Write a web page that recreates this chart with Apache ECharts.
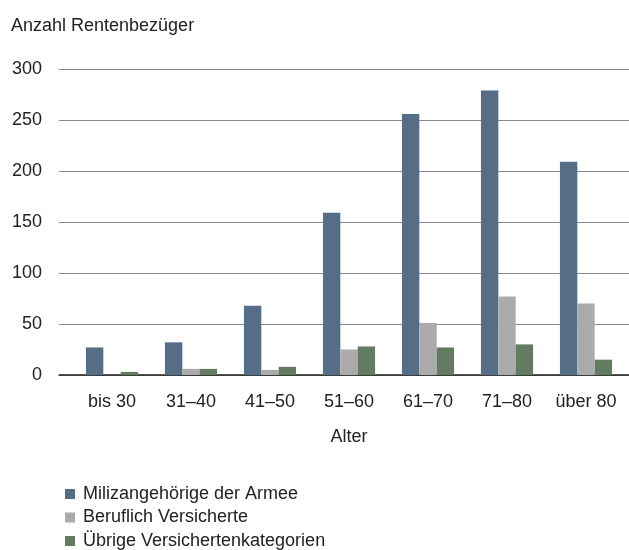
<!DOCTYPE html>
<html>
<head>
<meta charset="utf-8">
<script src="https://cdn.jsdelivr.net/npm/echarts@6/dist/echarts.min.js"></script>
<style>
  html, body { margin: 0; padding: 0; background: #fff; }
  #chart { width: 629px; height: 550px; }
</style>
</head>
<body>
<div id="chart"></div>
<script>
var ageGroups = ['bis 30', '31–40', '41–50', '51–60', '61–70', '71–80', 'über 80'];
var miliz = [27, 32, 68, 159, 256, 279, 209];
var beruflich = [0, 6, 5, 25, 51, 77, 70];
var uebrige = [3, 6, 8, 28, 27, 30, 15];
var yTicks = [0, 50, 100, 150, 200, 250, 300];
var seriesNames = ['Milizangehörige der Armee', 'Beruflich Versicherte', 'Übrige Versichertenkategorien'];

var font = '"Liberation Sans", Arial, sans-serif';
var fs = 18;

// one legend per row, rows ~23.5px apart
var legends = seriesNames.map(function (name, i) {
  return {
    orient: 'vertical',
    left: 65,
    top: 485 + i * 23.5,
    padding: 0,
    icon: 'rect',
    itemWidth: 10,
    itemHeight: 10,
    textStyle: { fontSize: fs, color: '#222', fontFamily: font, lineHeight: 16, padding: [0, 0, 0, 3] },
    data: [name]
  };
});

var chart = echarts.init(document.getElementById('chart'));

chart.setOption({
  animation: false,
  textStyle: { fontFamily: font },
  title: {
    text: 'Anzahl Rentenbezüger',
    left: 11,
    top: 17,
    padding: 0,
    textStyle: { fontSize: fs, fontWeight: 'normal', color: '#222', fontFamily: font }
  },
  legend: legends,
  grid: [
    { left: 59, right: 0, top: 69, bottom: 175 },
    { left: 72.5, right: 3.5, top: 69, bottom: 175 }
  ],
  xAxis: [
    {
      gridIndex: 0,
      type: 'category',
      data: ageGroups,
      axisLine: { show: true, lineStyle: { color: '#222', width: 1.5 } },
      axisTick: { show: false },
      axisLabel: { show: false }
    },
    {
      gridIndex: 1,
      type: 'category',
      data: ageGroups,
      axisLine: { show: false },
      axisTick: { show: false },
      axisLabel: { interval: 0, margin: 18, fontSize: fs, color: '#222', fontFamily: font },
      name: 'Alter',
      nameLocation: 'middle',
      nameGap: 53,
      nameTextStyle: { fontSize: fs, color: '#222', fontFamily: font }
    }
  ],
  yAxis: [
    {
      gridIndex: 0,
      type: 'value',
      min: yTicks[0],
      max: yTicks[yTicks.length - 1],
      interval: 50,
      axisLine: { show: false },
      axisTick: { show: false },
      axisLabel: { margin: 17, fontSize: fs, color: '#222', fontFamily: font },
      splitLine: { show: true, lineStyle: { color: '#8a8a8a', width: 1.2 } }
    },
    {
      gridIndex: 1,
      type: 'value',
      min: 0,
      max: 300,
      show: false,
      splitLine: { show: false }
    }
  ],
  series: [
    {
      name: seriesNames[0],
      type: 'bar',
      xAxisIndex: 1,
      yAxisIndex: 1,
      data: miliz,
      barGap: '0%',
      barCategoryGap: '34%',
      itemStyle: { color: '#566d86' }
    },
    {
      name: seriesNames[1],
      type: 'bar',
      xAxisIndex: 1,
      yAxisIndex: 1,
      data: beruflich,
      itemStyle: { color: '#ababab' }
    },
    {
      name: seriesNames[2],
      type: 'bar',
      xAxisIndex: 1,
      yAxisIndex: 1,
      data: uebrige,
      itemStyle: { color: '#627b61' }
    }
  ]
});
</script>
</body>
</html>
